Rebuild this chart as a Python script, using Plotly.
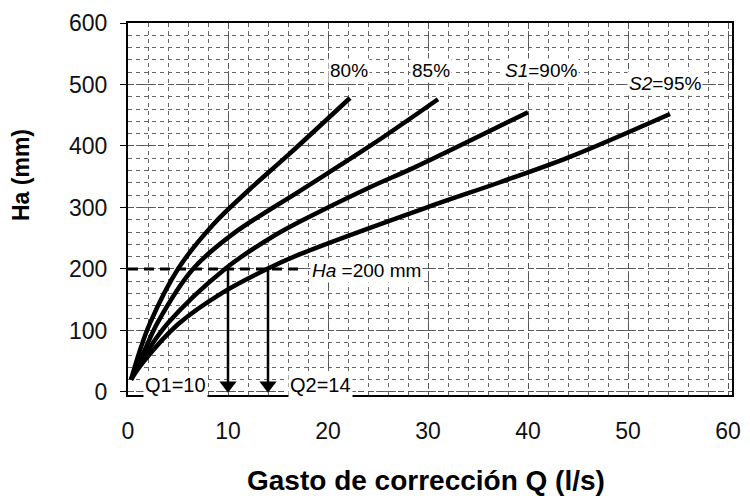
import plotly.graph_objects as go

# Curves: Q (l/s) vs Ha (mm)
q_80 = [0.3, 1.2, 2.2, 5.0, 8.5, 12.2, 16.0, 22.2]
ha_80 = [20, 68, 112, 200, 272, 330, 385, 478]

q_85 = [0.3, 1.5, 3.0, 6.5, 10.5, 17.2, 24.2, 31.0]
ha_85 = [20, 62, 114, 200, 257, 327, 400, 476]

q_90 = [0.3, 1.5, 4.0, 9.7, 14.2, 17.2, 24.2, 28.5, 40.0]
ha_90 = [20, 55, 112, 200, 250, 277, 333, 364, 455]

q_95 = [0.3, 1.5, 5.0, 9.5, 13.9, 17.2, 29.7, 37.2, 44.0, 54.2]
ha_95 = [20, 48, 110, 162, 200, 224, 299, 341, 381, 452]

ha_ref = 200
q_ref = [10, 14]
q_ref_labels = ["Q1=10", "Q2=14"]

x_ticks = [0, 10, 20, 30, 40, 50, 60]
y_ticks = [0, 100, 200, 300, 400, 500, 600]

curve_labels = ["80%", "85%", "<i>S1</i>=90%", "<i>S2</i>=95%"]
label_q = [22.1, 30.3, 41.3, 53.7]
label_ha = [522, 522, 522, 502]

FONT = "Liberation Sans, Arial, sans-serif"

# the page body has an 8px margin, so the figure is drawn 8px in from the window corner
W, H = 742, 492
L, R, T, B = 120, 18, 15, 105
pw, ph = W - L - R, H - T - B

fig = go.Figure()

for qs, hs in [(q_80, ha_80), (q_85, ha_85), (q_90, ha_90), (q_95, ha_95)]:
    fig.add_trace(go.Scatter(x=qs, y=hs, mode="lines",
                             line=dict(color="black", width=4.5, shape="spline", smoothing=1.0),
                             showlegend=False, hoverinfo="skip"))

# Ha = 200 mm reference line
fig.add_trace(go.Scatter(x=[0, 17.5], y=[ha_ref, ha_ref], mode="lines",
                         line=dict(color="black", width=3, dash="10px,6px"),
                         showlegend=False, hoverinfo="skip"))

# vertical drops to Q1, Q2
for q in q_ref:
    fig.add_trace(go.Scatter(x=[q, q], y=[ha_ref, 12], mode="lines",
                             line=dict(color="black", width=2.5),
                             showlegend=False, hoverinfo="skip"))
fig.add_trace(go.Scatter(x=q_ref, y=[11, 11], mode="markers",
                         marker=dict(symbol="triangle-down", size=15, color="black"),
                         cliponaxis=False, showlegend=False, hoverinfo="skip"))

annotations = []
for txt, xq, yh in zip(curve_labels, label_q, label_ha):
    annotations.append(dict(x=xq, y=yh, xref="x", yref="y", text=txt, showarrow=False,
                            font=dict(family=FONT, size=19, color="black"),
                            xanchor="center", yanchor="middle", bgcolor="white"))
annotations.append(dict(x=18.2, y=198, xref="x", yref="y", text="<i>Ha</i> =200 mm",
                        showarrow=False, font=dict(family=FONT, size=19, color="black"),
                        xanchor="left", yanchor="middle", bgcolor="white"))
annotations.append(dict(x=q_ref[0] - 5.3, y=11, xref="x", yref="y", text=q_ref_labels[0],
                        showarrow=False, font=dict(family=FONT, size=20, color="black"),
                        xanchor="center", yanchor="middle", bgcolor="white"))
annotations.append(dict(x=q_ref[1] + 5.2, y=11, xref="x", yref="y", text=q_ref_labels[1],
                        showarrow=False, font=dict(family=FONT, size=20, color="black"),
                        xanchor="center", yanchor="middle", bgcolor="white"))
# axis titles (positions given in figure pixels, converted to paper fractions)
annotations.append(dict(x=(418 - L) / pw, y=(H - B - 472) / ph, xref="paper", yref="paper",
                        text="Gasto de corrección Q (l/s)",
                        showarrow=False, font=dict(family=FONT, size=28, color="black", weight="bold"),
                        xanchor="center", yanchor="middle"))
annotations.append(dict(x=(13 - L) / pw, y=(H - B - 167) / ph, xref="paper", yref="paper",
                        text="Ha (mm)", textangle=-90,
                        showarrow=False, font=dict(family=FONT, size=23, color="black", weight="bold"),
                        xanchor="center", yanchor="middle"))

grid_style = dict(gridcolor="#555555", gridwidth=1, griddash="6px,4px")

fig.update_layout(
    width=W, height=H,
    margin=dict(l=L, r=R, t=T, b=B),
    paper_bgcolor="white", plot_bgcolor="white",
    font=dict(family=FONT, color="black"),
    annotations=annotations,
    xaxis=dict(
        range=[0, 60.4], tickvals=x_ticks, ticktext=[str(v) for v in x_ticks],
        tickfont=dict(size=23, family=FONT, color="#111"),
        ticks="", ticklabelstandoff=14, automargin=False,
        showline=True, linecolor="black", linewidth=2, mirror=True,
        showgrid=True, **grid_style,
        minor=dict(dtick=2, showgrid=True, gridcolor="#666666", gridwidth=1, griddash="4px,4px"),
        zeroline=False,
    ),
    yaxis=dict(
        range=[-5, 600], tickvals=y_ticks, ticktext=[str(v) for v in y_ticks],
        tickfont=dict(size=23, family=FONT, color="#111"),
        ticks="outside", ticklen=6, tickcolor="black", ticklabelstandoff=8, automargin=False,
        showline=True, linecolor="black", linewidth=2, mirror=True,
        showgrid=True, **grid_style,
        minor=dict(dtick=20, showgrid=True, gridcolor="#666666", gridwidth=1, griddash="4px,4px"),
        zeroline=False,
    ),
)

fig.write_html("out.html")
